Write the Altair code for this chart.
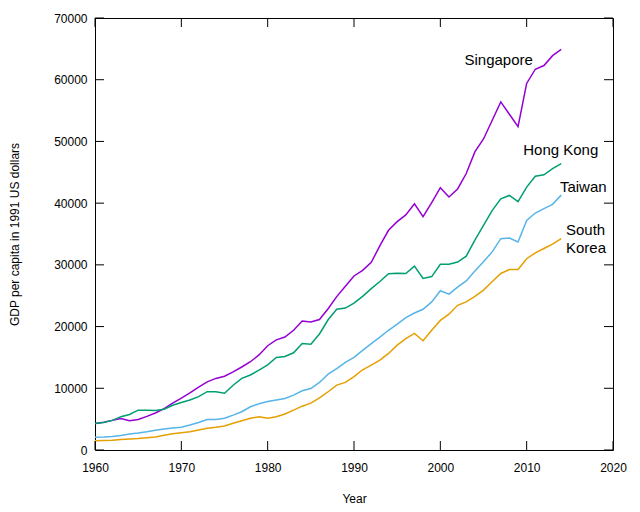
import altair as alt
import pandas as pd

years = list(range(1960, 2015))

singapore = [4300, 4500, 4800, 5100, 4750, 4950, 5450, 6000, 6700, 7600,
             8400, 9250, 10200, 11050, 11600, 11950, 12650, 13450, 14300, 15400,
             16900, 17850, 18300, 19400, 20900, 20750, 21150, 22900, 24850, 26550,
             28200, 29100, 30400, 33100, 35600, 37000, 38100, 39900, 37800, 40100,
             42500, 41000, 42300, 44800, 48300, 50400, 53400, 56400, 54400, 52400,
             59400, 61700, 62300, 63900, 64900]

hong_kong = [4300, 4450, 4800, 5400, 5750, 6450, 6450, 6400, 6600, 7250,
             7700, 8100, 8650, 9450, 9450, 9200, 10500, 11600, 12150, 12950,
             13800, 15000, 15150, 15750, 17250, 17150, 18800, 21100, 22800, 23000,
             23800, 24900, 26150, 27300, 28550, 28650, 28600, 29800, 27800, 28100,
             30100, 30100, 30450, 31400, 34000, 36400, 38800, 40700, 41250, 40250,
             42600, 44350, 44600, 45600, 46400]

taiwan = [2050, 2100, 2200, 2350, 2600, 2750, 2950, 3200, 3400, 3550,
          3700, 4050, 4450, 4950, 4950, 5150, 5650, 6200, 7000, 7500,
          7850, 8100, 8350, 8900, 9600, 9950, 10950, 12300, 13200, 14200,
          15000, 16150, 17250, 18300, 19400, 20400, 21450, 22200, 22800, 24000,
          25800, 25250, 26400, 27400, 29000, 30500, 32100, 34250, 34350, 33700,
          37200, 38400, 39100, 39800, 41300]

south_korea = [1500, 1550, 1600, 1700, 1780, 1850, 1990, 2100, 2400, 2650,
               2800, 2970, 3240, 3510, 3670, 3880, 4320, 4740, 5130, 5390,
               5150, 5400, 5830, 6470, 7100, 7600, 8450, 9440, 10520, 10950,
               11900, 13000, 13750, 14550, 15650, 17000, 18050, 18900, 17700, 19400,
               21000, 22000, 23450, 24000, 24900, 25900, 27250, 28600, 29250, 29250,
               31000, 31950, 32650, 33350, 34250]

countries = ["Singapore", "Hong Kong", "Taiwan", "South Korea"]
colors = ["#9400d3", "#009e73", "#56b4e9", "#e69f00"]

label_text = ["Singapore", "Hong Kong", "Taiwan", "South", "Korea"]
label_year = [2002.8, 2009.6, 2013.85, 2014.55, 2014.55]
label_value = [63200, 48650, 42600, 35700, 32750]

x_ticks = [1960, 1970, 1980, 1990, 2000, 2010, 2020]
y_ticks = [0, 10000, 20000, 30000, 40000, 50000, 60000, 70000]

series = {"Singapore": singapore, "Hong Kong": hong_kong,
          "Taiwan": taiwan, "South Korea": south_korea}
rows = []
for c in countries:
    for yr, v in zip(years, series[c]):
        rows.append({"country": c, "year": yr, "gdp": v})
df = pd.DataFrame(rows)
labels_df = pd.DataFrame({"text": label_text, "year": label_year, "gdp": label_value})
xt_df = pd.DataFrame({"year": x_ticks})
yt_df = pd.DataFrame({"gdp": y_ticks})

W, H = 518, 432
TS = 9

xscale = alt.Scale(domain=[1960, 2020], nice=False, zero=False)
yscale = alt.Scale(domain=[0, 70000], nice=False)

common = dict(offset=-TS, domain=False, grid=False, ticks=False, labelFlush=False)

x_axis = alt.Axis(orient="bottom", values=x_ticks, format="d",
                  labelPadding=12 + TS, title="Year", titleFontWeight="normal",
                  titleFontSize=12, titlePadding=20, **common)
y_axis = alt.Axis(orient="left", values=y_ticks, format="d",
                  labelPadding=8 + TS, title="GDP per capita in 1991 US dollars",
                  titleFontWeight="normal", titleFontSize=12,
                  titleX=-90, titleY=216, titleAngle=270,
                  titleAlign="center", titleBaseline="middle", **common)

X = alt.X("year:Q", scale=xscale, axis=x_axis, title="Year")
Y = alt.Y("gdp:Q", scale=yscale, axis=y_axis, title="GDP per capita in 1991 US dollars")

lines = alt.Chart(df).mark_line(strokeWidth=1.5).encode(
    x=X, y=Y,
    color=alt.Color("country:N", scale=alt.Scale(domain=countries, range=colors),
                    legend=None),
)

texts = alt.Chart(labels_df).mark_text(align="left", baseline="middle",
                                        fontSize=15, color="black",
                                        font="Liberation Sans").encode(
    x=X, y=Y, text="text:N",
)

tick_style = dict(color="black", strokeWidth=1)
bottom_ticks = alt.Chart(xt_df).mark_rule(**tick_style).encode(
    x=X, y=alt.value(H), y2=alt.value(H - TS))
top_ticks = alt.Chart(xt_df).mark_rule(**tick_style).encode(
    x=X, y=alt.value(0), y2=alt.value(TS))
left_ticks = alt.Chart(yt_df).mark_rule(**tick_style).encode(
    y=Y, x=alt.value(0), x2=alt.value(TS))
right_ticks = alt.Chart(yt_df).mark_rule(**tick_style).encode(
    y=Y, x=alt.value(W), x2=alt.value(W - TS))

chart = alt.layer(lines, texts, bottom_ticks, top_ticks, left_ticks, right_ticks).properties(
    width=W, height=H,
    autosize=alt.AutoSizeParams(type="none"),
    padding={"left": 95, "top": 18, "right": 27, "bottom": 62},
).configure(font="Liberation Sans").configure_view(
    stroke="black", strokeWidth=1
).configure_axis(
    labelFont="Liberation Sans", labelFontSize=12, labelColor="black",
    titleFont="Liberation Sans", titleColor="black"
)

chart.save("out.html", embed_options={"renderer": "svg", "actions": False})
